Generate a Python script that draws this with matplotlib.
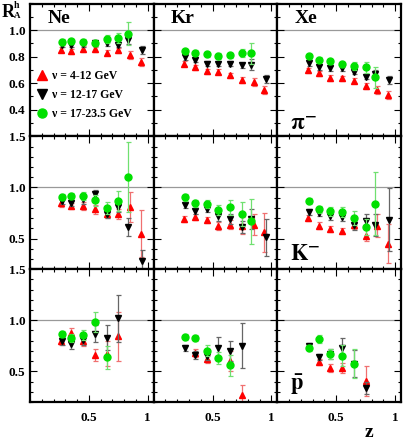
import numpy as np
import matplotlib
matplotlib.use('Agg')
import matplotlib.pyplot as plt
from matplotlib.ticker import FixedLocator, MultipleLocator, NullFormatter
from matplotlib.lines import Line2D

plt.rcParams['font.family'] = ['Liberation Serif', 'DejaVu Serif']
plt.rcParams['font.weight'] = 'bold'
plt.rcParams['mathtext.fontset'] = 'stix'

nan = np.nan

targets = ['Ne', 'Kr', 'Xe']
hadrons = ['pi', 'K', 'pbar']
nu_labels = ['\u03bd = 4-12 GeV', '\u03bd = 12-17 GeV', '\u03bd = 17-23.5 GeV']

# mean z of each bin, per nu range
z_red = [0.26, 0.35, 0.45, 0.55, 0.65, 0.75, 0.85, 0.94]
z_blk = [0.27, 0.35, 0.45, 0.55, 0.65, 0.75, 0.83, 0.95]
z_grn = [0.27, 0.35, 0.45, 0.55, 0.65, 0.75, 0.83]

# pi-
ne_pi_r = [0.853, 0.84, 0.858, 0.856, 0.83, 0.848, 0.81, 0.76]
ne_pi_r_err = [0.02, 0.02, 0.02, 0.02, 0.02, 0.02, 0.03, 0.03]
ne_pi_b = [0.89, 0.89, 0.895, 0.90, 0.90, 0.89, 0.926, 0.848]
ne_pi_b_err = [0.02, 0.02, 0.02, 0.02, 0.02, 0.02, 0.03, 0.03]
ne_pi_g = [0.909, 0.916, 0.909, 0.901, 0.934, 0.939, 0.972]
ne_pi_g_err = [0.02, 0.02, 0.02, 0.02, 0.03, 0.04, 0.085]

kr_pi_r = [0.747, 0.72, 0.69, 0.688, 0.658, 0.625, 0.612, 0.549]
kr_pi_r_err = [0.02, 0.02, 0.02, 0.02, 0.02, 0.02, 0.03, 0.03]
kr_pi_b = [0.797, 0.777, 0.747, 0.747, 0.747, 0.734, 0.739, 0.633]
kr_pi_b_err = [0.02, 0.02, 0.02, 0.02, 0.02, 0.02, 0.04, 0.03]
kr_pi_g = [0.84, 0.83, 0.817, 0.805, 0.81, 0.825, 0.825]
kr_pi_g_err = [0.02, 0.02, 0.02, 0.02, 0.02, 0.03, 0.08]

xe_pi_r = [0.696, 0.675, 0.64, 0.637, 0.62, 0.58, 0.549, 0.511]
xe_pi_r_err = [0.02, 0.02, 0.02, 0.02, 0.02, 0.02, 0.03, 0.03]
xe_pi_b = [0.751, 0.721, 0.713, 0.711, 0.686, 0.65, 0.671, 0.625]
xe_pi_b_err = [0.02, 0.02, 0.02, 0.02, 0.02, 0.02, 0.03, 0.03]
xe_pi_g = [0.802, 0.777, 0.764, 0.741, 0.726, 0.719, 0.645]
xe_pi_g_err = [0.02, 0.02, 0.02, 0.02, 0.03, 0.04, 0.08]

# K-
ne_k_r = [0.846, 0.814, 0.817, 0.784, 0.742, 0.742, 0.807, 0.546]
ne_k_r_err = [0.04, 0.03, 0.04, 0.04, 0.04, 0.05, 0.15, 0.23]
ne_k_b = [0.863, 0.846, 0.882, 0.931, 0.742, 0.807, 0.611, 0.284]
ne_k_b_err = [0.03, 0.03, 0.04, 0.04, 0.04, 0.05, 0.09, 0.1]
ne_k_g = [0.905, 0.918, 0.918, 0.873, 0.797, 0.866, 1.10]
ne_k_g_err = [0.03, 0.03, 0.04, 0.05, 0.06, 0.1, 0.34]

kr_k_r = [0.693, 0.709, 0.683, 0.624, 0.637, 0.627, 0.637, 0.562]
kr_k_r_err = [0.03, 0.03, 0.03, 0.04, 0.04, 0.08, 0.1, 0.19]
kr_k_b = [0.827, 0.768, 0.787, 0.716, 0.693, 0.611, 0.693, 0.513]
kr_k_b_err = [0.03, 0.03, 0.03, 0.04, 0.05, 0.06, 0.1, 0.18]
kr_k_g = [0.902, 0.843, 0.84, 0.781, 0.804, 0.738, 0.667]
kr_k_g_err = [0.03, 0.03, 0.04, 0.05, 0.07, 0.12, 0.22]

xe_k_r = [0.703, 0.627, 0.595, 0.572, 0.634, 0.529, 0.627, 0.448]
xe_k_r_err = [0.03, 0.03, 0.03, 0.03, 0.04, 0.05, 0.11, 0.19]
xe_k_b = [0.758, 0.752, 0.716, 0.709, 0.637, 0.669, 0.634, 0.683]
xe_k_b_err = [0.03, 0.03, 0.03, 0.04, 0.05, 0.07, 0.11, 0.31]
xe_k_g = [0.866, 0.784, 0.765, 0.762, 0.703, 0.615, 0.84]
xe_k_g_err = [0.03, 0.03, 0.04, 0.05, 0.07, 0.08, 0.31]

# anti-protons
ne_p_r = [0.80, 0.876, 0.794, 0.657, 0.673, 0.843]
ne_p_r_err = [0.04, 0.05, 0.05, 0.06, 0.12, 0.24]
ne_p_b = [0.794, 0.765, 0.804, 0.869, 0.83, 1.02]
ne_p_b_err = [0.04, 0.05, 0.05, 0.08, 0.12, 0.23]
ne_p_g = [0.869, 0.827, 0.853, 0.984, 0.637]
ne_p_g_err = [0.03, 0.04, 0.05, 0.1, 0.11]

kr_p_r = [nan, 0.68, 0.618, nan, 0.601, 0.265]
kr_p_r_err = [nan, 0.04, 0.04, nan, 0.1, 0.1]
kr_p_b = [0.732, 0.663, 0.65, 0.732, 0.699, 0.752]
kr_p_b_err = [0.03, 0.04, 0.04, 0.1, 0.1, 0.22]
kr_p_g = [0.836, 0.827, 0.703, 0.634, 0.559]
kr_p_g_err = [0.03, 0.03, 0.05, 0.06, 0.1]

xe_p_r = [nan, 0.595, 0.532, 0.532, nan, 0.405]
xe_p_r_err = [nan, 0.03, 0.04, 0.05, nan, 0.15]
xe_p_b = [0.745, 0.64, 0.67, 0.729, 0.575, 0.34]
xe_p_b_err = [0.03, 0.03, 0.05, 0.1, 0.13, 0.06]
xe_p_g = [0.732, 0.814, 0.673, 0.654, 0.575]
xe_p_g_err = [0.03, 0.04, 0.05, 0.1, 0.14]

panels = {
    ('Ne', 'pi'): (ne_pi_r, ne_pi_r_err, ne_pi_b, ne_pi_b_err, ne_pi_g, ne_pi_g_err),
    ('Kr', 'pi'): (kr_pi_r, kr_pi_r_err, kr_pi_b, kr_pi_b_err, kr_pi_g, kr_pi_g_err),
    ('Xe', 'pi'): (xe_pi_r, xe_pi_r_err, xe_pi_b, xe_pi_b_err, xe_pi_g, xe_pi_g_err),
    ('Ne', 'K'): (ne_k_r, ne_k_r_err, ne_k_b, ne_k_b_err, ne_k_g, ne_k_g_err),
    ('Kr', 'K'): (kr_k_r, kr_k_r_err, kr_k_b, kr_k_b_err, kr_k_g, kr_k_g_err),
    ('Xe', 'K'): (xe_k_r, xe_k_r_err, xe_k_b, xe_k_b_err, xe_k_g, xe_k_g_err),
    ('Ne', 'pbar'): (ne_p_r, ne_p_r_err, ne_p_b, ne_p_b_err, ne_p_g, ne_p_g_err),
    ('Kr', 'pbar'): (kr_p_r, kr_p_r_err, kr_p_b, kr_p_b_err, kr_p_g, kr_p_g_err),
    ('Xe', 'pbar'): (xe_p_r, xe_p_r_err, xe_p_b, xe_p_b_err, xe_p_g, xe_p_g_err),
}

hadron_text = {'pi': r'$\mathbf{\pi^{-}}$', 'K': r'$\mathbf{K^{-}}$', 'pbar': r'$\mathbf{\bar{p}}$'}

W, H = 403, 443
fig = plt.figure(figsize=(W / 100, H / 100), dpi=100)

x0, x1 = 30, 401
y0, y1 = 3.5, 402
cw = (x1 - x0) / 3
rh = (y1 - y0) / 3

series_style = [
    ('#ff0000', '#f07070', '^'),
    ('#000000', '#666666', 'v'),
    ('#00e000', '#70e070', 'o'),
]

for i, had in enumerate(hadrons):
    for j, tgt in enumerate(targets):
        left = (x0 + j * cw) / W
        bottom = 1 - (y0 + (i + 1) * rh) / H
        ax = fig.add_axes([left, bottom, cw / W, rh / H])
        vals = panels[(tgt, had)]
        zs = [z_red, z_blk, z_grn]
        ax.axhline(1.0, color='#999999', lw=0.9, zorder=1)
        for k in range(3):
            v = np.array(vals[2 * k], dtype=float)
            e = np.array(vals[2 * k + 1], dtype=float)
            z = np.array(zs[k][:len(v)])
            col, ecol, mk = series_style[k]
            ax.errorbar(z, v, yerr=e, fmt='none', ecolor=ecol, elinewidth=0.9,
                        capsize=1.8, capthick=0.9, zorder=2 + k)
            ax.plot(z, v, linestyle='none', marker=mk, color=col,
                    markersize=4.8 if mk != 'o' else 5.0, zorder=3 + k)

        ax.set_xlim(0, 1.05)
        if i == 0:
            ax.set_ylim(0.2, 1.2)
            ax.yaxis.set_major_locator(FixedLocator([0.4, 0.6, 0.8, 1.0]))
        else:
            ax.set_ylim(0.2, 1.5)
            ax.yaxis.set_major_locator(FixedLocator([0.5, 1.0, 1.5]))
        ax.yaxis.set_minor_locator(MultipleLocator(0.1))
        ax.xaxis.set_major_locator(FixedLocator([0.5, 1.0]))
        ax.xaxis.set_minor_locator(MultipleLocator(0.1))
        ax.tick_params(which='both', direction='in', top=True, right=True, width=0.8)
        ax.tick_params(which='major', length=5, labelsize=9.5)
        ax.tick_params(which='minor', length=2.5)
        for s in ax.spines.values():
            s.set_linewidth(1.6)

        if j == 0:
            if i == 0:
                ax.set_yticklabels(['0.4', '0.6', '0.8', '1.0'], fontweight='bold')
            else:
                ax.set_yticklabels(['0.5', '1.0', '1.5'], fontweight='bold')
        else:
            ax.yaxis.set_major_formatter(NullFormatter())
        if i == 2:
            ax.set_xticklabels(['0.5', '1'], fontweight='bold')
            ax.tick_params(axis='x', pad=7)
        else:
            ax.xaxis.set_major_formatter(NullFormatter())

        if i == 0:
            ax.text(0.14, 0.855, tgt, transform=ax.transAxes, fontsize=14,
                    fontweight='bold')
        if j == 2:
            ypos = {'pi': 0.045, 'K': 0.07, 'pbar': 0.09}[had]
            ax.text(0.1, ypos, hadron_text[had], transform=ax.transAxes,
                    fontsize=16)

        if i == 0 and j == 0:
            handles = [Line2D([], [], linestyle='none', marker=m, color=c, markersize=6.5)
                       for c, _, m in series_style]
            ax.legend(handles, nu_labels, loc='lower left', bbox_to_anchor=(-0.03, 0.04),
                      frameon=False, handlelength=0.8, handletextpad=0.5,
                      labelspacing=0.62, prop={'size': 8.5, 'weight': 'bold'})

fig.text(2 / W, 1 - 17 / H, 'R', fontsize=13, fontweight='bold', va='baseline')
fig.text(14 / W, 1 - 7.5 / H, 'h', fontsize=7, fontweight='bold', va='baseline')
fig.text(13.5 / W, 1 - 18 / H, 'A', fontsize=6.5, fontweight='bold', va='baseline')
fig.text(365 / W, 1 - 437 / H, 'z', fontsize=14, fontweight='bold', va='baseline')

fig.savefig('out.png', dpi=100)
